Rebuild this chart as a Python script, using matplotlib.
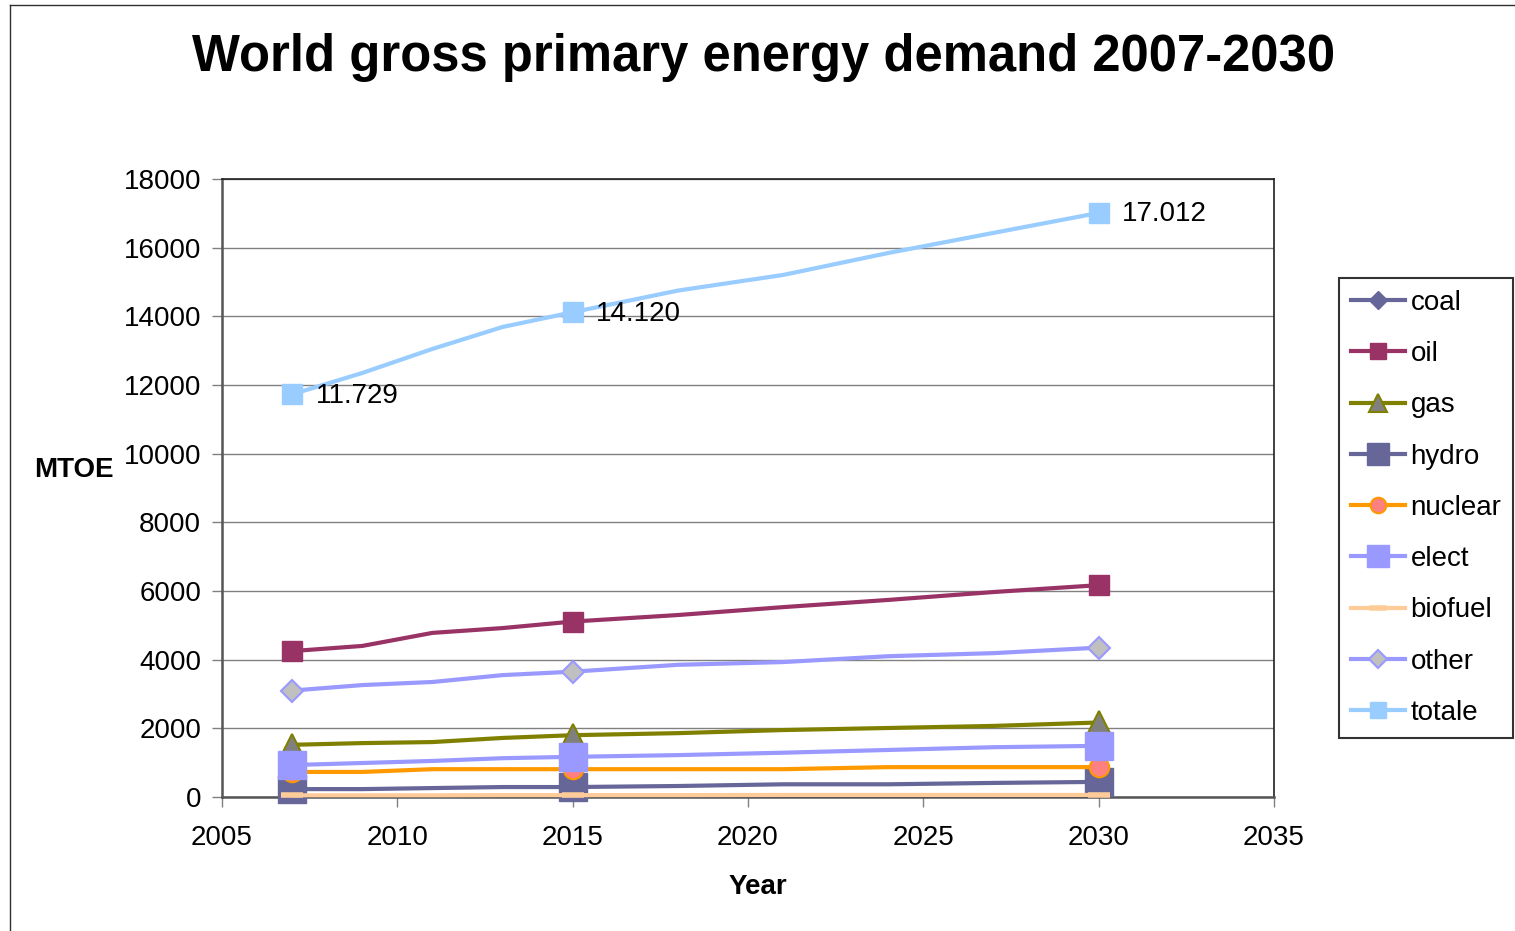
import numpy as np
import matplotlib
matplotlib.use("Agg")
import matplotlib.pyplot as plt
from matplotlib.lines import Line2D

plt.rcParams["font.family"] = ["Liberation Sans", "DejaVu Sans"]

years = [2007, 2009, 2011, 2013, 2015, 2018, 2021, 2024, 2027, 2030]
marker_years = [2007, 2015, 2030]

# coal has no figures in the table: it only shows up in the legend
coal = [np.nan] * len(years)
oil = [4250, 4400, 4780, 4920, 5110, 5300, 5530, 5740, 5970, 6170]
gas = [1520, 1570, 1600, 1720, 1800, 1860, 1950, 2010, 2070, 2170]
hydro = [230, 230, 260, 290, 290, 320, 370, 370, 410, 440]
nuclear = [730, 730, 810, 810, 810, 810, 810, 870, 870, 870]
elect = [930, 990, 1050, 1130, 1170, 1220, 1290, 1370, 1450, 1490]
biofuel = [50, 50, 50, 55, 55, 55, 60, 60, 60, 60]
other = [3100, 3260, 3350, 3550, 3650, 3850, 3930, 4100, 4190, 4350]
totale = [11729, 12350, 13050, 13690, 14120, 14750, 15205, 15845, 16430, 17012]

series = [
    ("coal", coal, dict(color="#666699", marker="D", mfc="#666699", mec="#666699", ms=11)),
    ("oil", oil, dict(color="#993366", marker="s", mfc="#993366", mec="#993366", ms=15)),
    ("gas", gas, dict(color="#808000", marker="^", mfc="#808080", mec="#808000", ms=16, mew=1.5)),
    ("hydro", hydro, dict(color="#666699", marker="s", mfc="#666699", mec="#666699", ms=20)),
    ("nuclear", nuclear, dict(color="#FF9900", marker="o", mfc="#FF8080", mec="#FF9900", ms=14, mew=1.5)),
    ("elect", elect, dict(color="#9999FF", marker="s", mfc="#9999FF", mec="#9999FF", ms=20)),
    ("biofuel", biofuel, dict(color="#FFCC99", marker="_", mfc="#FFCC99", mec="#FFCC99", ms=16, mew=4)),
    ("other", other, dict(color="#9999FF", marker="D", mfc="#C0C0C0", mec="#9999FF", ms=11, mew=1.5)),
    ("totale", totale, dict(color="#99CCFF", marker="s", mfc="#99CCFF", mec="#99CCFF", ms=15)),
]

fig = plt.figure(figsize=(15.15, 9.31), dpi=100)
ax = fig.add_axes([222 / 1515, 1 - 797 / 931, (1274 - 222) / 1515, (797 - 179) / 931])

mark_idx = [years.index(y) for y in marker_years]
handles = []
for name, vals, st in series:
    ax.plot(years, vals, lw=3, markevery=mark_idx, clip_on=False, zorder=3, **st)
    # smaller markers in the legend
    hst = dict(st)
    hst["ms"] = st["ms"] * 0.8
    handles.append(Line2D([], [], lw=3, label=name, **hst))

for y in marker_years:
    v = totale[years.index(y)]
    ax.annotate(f"{v:,}".replace(",", "."), (y, v), xytext=(17, -1),
                textcoords="offset points", va="center", ha="left",
                fontsize=20, zorder=5)

ax.set_xlim(2005, 2035)
ax.set_ylim(0, 18000)
ax.set_xticks(range(2005, 2036, 5))
ax.set_yticks(range(0, 18001, 2000))
ax.tick_params(labelsize=20, length=7, width=1, color="#808080")
ax.tick_params(axis="x", pad=13)
ax.tick_params(axis="y", pad=8)
ax.yaxis.grid(True, color="#808080", lw=1)
ax.set_axisbelow(True)
for side in ["left", "bottom"]:
    ax.spines[side].set_color("#555555")
    ax.spines[side].set_linewidth(1.8)
for side in ["top", "right"]:
    ax.spines[side].set_color("#202020")
    ax.spines[side].set_linewidth(1.2)

leg = fig.legend(handles=handles, loc="upper left",
                 bbox_to_anchor=(1339 / 1515, 1 - 278 / 931), bbox_transform=fig.transFigure,
                 borderaxespad=0, fontsize=20, frameon=True, fancybox=False,
                 handlelength=1.95, handletextpad=0.2, labelspacing=0.91, borderpad=0.42)
leg.get_frame().set_edgecolor("black")
leg.get_frame().set_linewidth(1.5)

fig.text(764 / 1515, 1 - 58 / 931, "World gross primary energy demand 2007-2030",
         ha="center", va="center", fontsize=36.5, fontweight="bold")
fig.text(74 / 1515, 1 - 470 / 931, "MTOE", ha="center", va="center",
         fontsize=20, fontweight="bold")
fig.text(758 / 1515, 1 - 887 / 931, "Year", ha="center", va="center",
         fontsize=20, fontweight="bold")

# outer chart border
fig.add_artist(Line2D([10 / 1515, 10 / 1515], [0, 1 - 5 / 931], transform=fig.transFigure,
                      color="#303030", lw=1))
fig.add_artist(Line2D([10 / 1515, 1], [1 - 5 / 931, 1 - 5 / 931], transform=fig.transFigure,
                      color="#303030", lw=1))

fig.savefig("out.png", dpi=100)
